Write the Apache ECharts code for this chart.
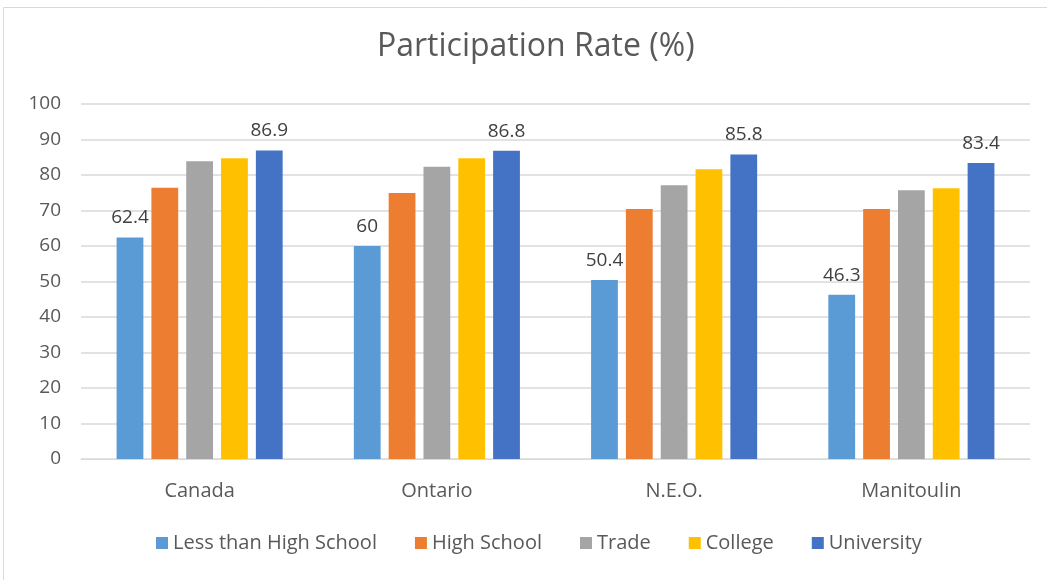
<!DOCTYPE html>
<html>
<head>
<meta charset="utf-8">
<script src="https://cdn.jsdelivr.net/npm/echarts@6/dist/echarts.min.js"></script>
<style>
  html, body { margin: 0; padding: 0; background: #fff; }
  #main { width: 1047px; height: 580px; }
</style>
</head>
<body>
<div id="main"></div>
<script>
var regions = ['Canada', 'Ontario', 'N.E.O.', 'Manitoulin'];
var seriesNames = ['Less than High School', 'High School', 'Trade', 'College', 'University'];
var lessThanHS = [62.4, 60, 50.4, 46.3];
var highSchool = [76.4, 74.9, 70.4, 70.4];
var trade = [83.9, 82.3, 77.1, 75.7];
var college = [84.7, 84.7, 81.6, 76.3];
var university = [86.9, 86.8, 85.8, 83.4];
var yTicks = [0, 10, 20, 30, 40, 50, 60, 70, 80, 90, 100];

var colors = ['#5B9BD5', '#ED7D31', '#A5A5A5', '#FFC000', '#4472C4'];
var allData = [lessThanHS, highSchool, trade, college, university];
var font = '"Open Sans", sans-serif';

var myChart = echarts.init(document.getElementById('main'));

var series = [];
for (var i = 0; i < seriesNames.length; i++) {
	series.push({
		name: seriesNames[i],
		type: 'bar',
		data: allData[i],
		barGap: '30%',
		barCategoryGap: '30%',
		itemStyle: { color: colors[i] },
		label: {
			// only first and last series carry labels in the original
			show: i == 0 || i == seriesNames.length - 1,
			position: 'top',
			distance: 10,
			color: '#404040',
			fontSize: 19,
			fontFamily: font
		}
	});
}

var option = {
	animation: false,
	graphic: [{
		type: 'rect',
		shape: { x: 3.5, y: 7.5, width: 1060, height: 600 },
		style: { fill: 'none', stroke: '#d9d9d9', lineWidth: 1 },
		silent: true
	}],
	title: {
		text: 'Participation Rate (%)',
		left: 372,
		top: 26,
		textStyle: { color: '#595959', fontSize: 32, fontWeight: 'normal', fontFamily: font }
	},
	legend: {
		data: seriesNames,
		bottom: 22,
		left: 151,
		icon: 'rect',
		itemWidth: 12,
		itemHeight: 12,
		itemGap: 38,
		textStyle: { color: '#595959', fontSize: 20, fontFamily: font }
	},
	grid: { left: 81, right: 17, top: 104, bottom: 121 },
	xAxis: {
		type: 'category',
		data: regions,
		axisTick: { show: false },
		axisLine: { lineStyle: { color: '#d9d9d9' } },
		axisLabel: { color: '#595959', fontSize: 20, fontFamily: font, margin: 22 }
	},
	yAxis: {
		type: 'value',
		min: yTicks[0],
		max: yTicks[yTicks.length - 1],
		interval: 10,
		axisLine: { show: false },
		axisTick: { show: false },
		axisLabel: { color: '#595959', fontSize: 19, fontFamily: font, margin: 20 },
		splitLine: { lineStyle: { color: '#d9d9d9', width: 1.5 } }
	},
	series: series
};
myChart.setOption(option);
</script>
</body>
</html>
